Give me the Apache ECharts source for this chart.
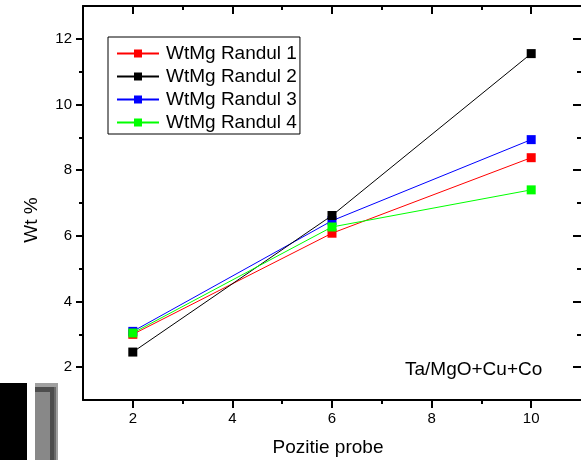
<!DOCTYPE html>
<html>
<head>
<meta charset="utf-8">
<script src="https://cdn.jsdelivr.net/npm/echarts@6/dist/echarts.min.js"></script>
<style>
html,body{margin:0;padding:0;background:#fff;}
#chart{width:581px;height:460px;}
</style>
</head>
<body>
<div id="chart"></div>
<script>
// ---- data ----
var positions = [2, 6, 10];
var seriesNames = ['WtMg Randul 1', 'WtMg Randul 2', 'WtMg Randul 3', 'WtMg Randul 4'];
var randul1 = [3.00, 6.08, 8.38];
var randul2 = [2.46, 6.62, 11.55];
var randul3 = [3.09, 6.46, 8.93];
var randul4 = [3.04, 6.27, 7.40];
var xMajorTicks = [2, 4, 6, 8, 10];
var xMinorTicks = [3, 5, 7, 9];
var yMajorTicks = [2, 4, 6, 8, 10, 12];
var yMinorTicks = [3, 5, 7, 9, 11];
var xTitle = 'Pozitie probe';
var yTitle = 'Wt %';
var annotation = 'Ta/MgO+Cu+Co';

var FONT = '"Liberation Sans", Arial, sans-serif';
var colors = ['#ff0000', '#000000', '#0000ff', '#00ff00'];
var zOrder = [2, 4, 3, 5];
var values = [randul1, randul2, randul3, randul4];

function pairs(arr) {
  return positions.map(function (x, i) { return [x, arr[i]]; });
}

function axisBase(pos, min, max, ticks, len, inside, showLine, showLabel) {
  return {
    type: 'value', position: pos, min: min, max: max,
    splitLine: { show: false },
    axisLine: { show: showLine, onZero: false, lineStyle: { color: '#000', width: 2 } },
    axisTick: { show: true, customValues: ticks, length: len, inside: inside,
      lineStyle: { color: '#000', width: 2 } },
    axisLabel: { show: showLabel, customValues: showLabel ? ticks : undefined,
      color: '#000', fontSize: 15, fontFamily: FONT, margin: 11 }
  };
}

var chart = echarts.init(document.getElementById('chart'), null, { renderer: 'canvas' });
var option = {
  animation: false,
  backgroundColor: '#fff',
  grid: { left: 83, top: 6, width: 500, height: 394, containLabel: false },
  xAxis: [
    axisBase('bottom', 1, 11, xMajorTicks, 8, false, true, true),
    axisBase('bottom', 1, 11, xMinorTicks, 4, false, false, false),
    axisBase('top', 1, 11, xMajorTicks, 8, true, true, false),
    axisBase('top', 1, 11, xMinorTicks, 4, true, false, false)
  ],
  yAxis: [
    axisBase('left', 1, 13, yMajorTicks, 7, false, true, true),
    axisBase('left', 1, 13, yMinorTicks, 4, false, false, false),
    axisBase('right', 1, 13, yMajorTicks, 8, true, false, false),
    axisBase('right', 1, 13, yMinorTicks, 4, true, false, false)
  ],
  legend: {
    left: 108, top: 37, orient: 'vertical',
    data: seriesNames,
    borderColor: '#000', borderWidth: 1,
    padding: [7, 3, 2, 8],
    itemWidth: 42, itemHeight: 10, itemGap: 4,
    textStyle: { color: '#000', fontSize: 19, fontFamily: FONT, lineHeight: 18, padding: [0, 0, 0, 2] }
  },
  series: seriesNames.map(function (name, i) {
    return {
      name: name, type: 'line', xAxisIndex: 0, yAxisIndex: 0,
      data: pairs(values[i]), z: zOrder[i],
      symbol: 'rect', symbolSize: 9, showSymbol: true,
      lineStyle: { color: colors[i], width: 1 },
      itemStyle: { color: colors[i], borderWidth: 0 },
      emphasis: { disabled: true }
    };
  }),
  graphic: [
    { type: 'text', x: 405, y: 370, style: { text: annotation, fill: '#000', font: '19px ' + FONT, verticalAlign: 'middle' } },
    { type: 'text', x: 328, y: 448, style: { text: xTitle, fill: '#000', font: '19px ' + FONT, align: 'center', verticalAlign: 'middle' } },
    { type: 'text', x: 32, y: 220, rotation: Math.PI / 2, style: { text: yTitle, fill: '#000', font: '19px ' + FONT, align: 'center', verticalAlign: 'middle' } },
    { type: 'rect', shape: { x: 0, y: 383, width: 27, height: 77 }, style: { fill: '#000' } },
    { type: 'rect', shape: { x: 35, y: 383, width: 23, height: 77 }, style: { fill: '#a0a0a0' } },
    { type: 'rect', shape: { x: 35, y: 387, width: 19, height: 5 }, style: { fill: '#4d4d4d' } },
    { type: 'rect', shape: { x: 50, y: 387, width: 4, height: 73 }, style: { fill: '#4d4d4d' } },
    { type: 'rect', shape: { x: 54, y: 387, width: 2, height: 73 }, style: { fill: '#6a6a6a' } },
    { type: 'rect', shape: { x: 35, y: 392, width: 15, height: 68 }, style: { fill: '#888888' } }
  ]
};
chart.setOption(option);
</script>
</body>
</html>
